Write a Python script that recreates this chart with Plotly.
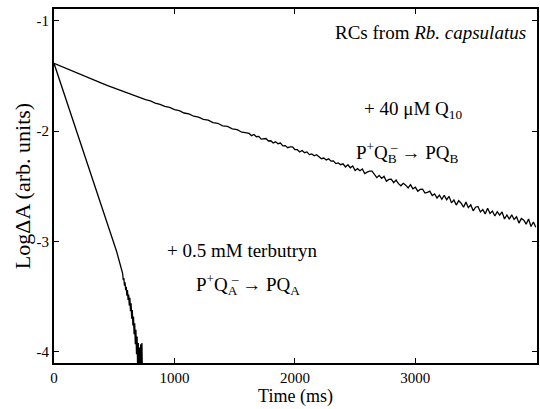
import plotly.graph_objects as go

# ---- data ----
# + 40 uM Q10 (P+QB- -> PQB)
t_qb = list(range(0, 1601, 40)) + list(range(1620, 4001, 20))
logA_qb = [
    -1.386, -1.405, -1.424, -1.442, -1.460, -1.479, -1.497, -1.515, -1.533, -1.550,
    -1.568, -1.585, -1.602, -1.619, -1.635, -1.651, -1.667, -1.683, -1.698, -1.714,
    -1.727, -1.746, -1.757, -1.776, -1.786, -1.806, -1.815, -1.836, -1.844, -1.865,
    -1.873, -1.893, -1.901, -1.923, -1.929, -1.952, -1.958, -1.980, -1.987, -2.010,
    -2.015,
    -2.021, -2.041, -2.030, -2.051, -2.048, -2.073, -2.067, -2.067, -2.089, -2.087,
    -2.108, -2.097, -2.114, -2.108, -2.133, -2.131, -2.150, -2.142, -2.143, -2.167,
    -2.168, -2.189, -2.176, -2.195, -2.188, -2.213, -2.207, -2.223, -2.213, -2.228,
    -2.250, -2.244, -2.262, -2.251, -2.272, -2.269, -2.294, -2.288, -2.304, -2.296,
    -2.325, -2.305, -2.332, -2.316, -2.357, -2.340, -2.359, -2.343, -2.384, -2.371,
    -2.362, -2.363, -2.389, -2.421, -2.401, -2.428, -2.410, -2.454, -2.437, -2.435,
    -2.467, -2.444, -2.476, -2.495, -2.473, -2.489, -2.514, -2.485, -2.522, -2.507,
    -2.544, -2.528, -2.526, -2.561, -2.554, -2.544, -2.584, -2.569, -2.606, -2.580,
    -2.617, -2.581, -2.621, -2.591, -2.650, -2.623, -2.670, -2.629, -2.653, -2.689,
    -2.643, -2.693, -2.667, -2.722, -2.689, -2.682, -2.732, -2.711, -2.750, -2.699,
    -2.746, -2.724, -2.769, -2.729, -2.761, -2.732, -2.796, -2.759, -2.797, -2.758,
    -2.800, -2.776, -2.833, -2.792, -2.807, -2.843, -2.796, -2.864, -2.823, -2.870,
]

# + 0.5 mM terbutryn (P+QA- -> PQA)
t_qa = [0, 50, 100, 150, 200, 250, 300, 350, 400, 450, 490, 520, 545, 565,
        570, 575, 580, 585, 590, 595, 600, 605, 610, 615, 620, 625, 630, 635,
        640, 645, 650, 655, 660, 665, 670, 675, 680, 685, 690, 695, 700, 705,
        710, 715, 720, 725, 730, 735]
logA_qa = [-1.386, -1.55, -1.715, -1.88, -2.045, -2.21, -2.37, -2.53, -2.69, -2.85,
           -2.98, -3.09, -3.19, -3.28,
           -3.29, -3.35, -3.33, -3.40, -3.37, -3.44, -3.41, -3.49, -3.44, -3.53,
           -3.48, -3.58, -3.51, -3.63, -3.56, -3.70, -3.62, -3.76, -3.68, -3.84,
           -3.74, -3.93, -3.80, -4.02, -3.86, -4.20, -3.92, -4.20, -3.96, -4.30,
           -3.93, -4.30, -3.92, -4.30]

x_ticks = [0, 1000, 2000, 3000]
y_ticks = [-1, -2, -3, -4]

SERIF = "Liberation Serif, Times New Roman, serif"

fig = go.Figure()
fig.add_trace(go.Scatter(x=t_qb, y=logA_qb, mode="lines",
                         line=dict(color="black", width=1.3), showlegend=False))
fig.add_trace(go.Scatter(x=t_qa, y=logA_qa, mode="lines",
                         line=dict(color="black", width=1.3), showlegend=False))

axis_common = dict(showline=True, linecolor="black", linewidth=2, mirror="ticks",
                   ticks="inside", ticklen=5, tickwidth=1.2, tickcolor="black",
                   showgrid=False, zeroline=False,
                   tickfont=dict(family=SERIF, size=15, color="black"))

fig.update_xaxes(range=[0, 4010], tickvals=x_ticks, ticktext=[str(v) for v in x_ticks],
                 title=dict(text="Time (ms)", font=dict(family=SERIF, size=18, color="black"),
                            standoff=2), **axis_common)
fig.update_yaxes(range=[-4.1, -0.894], tickvals=y_ticks, ticktext=[str(v) for v in y_ticks],
                 title=dict(text="LogΔA (arb. units)", font=dict(family=SERIF, size=22, color="black"),
                            standoff=0), **axis_common)

ann_font = dict(family=SERIF, size=19, color="black")
annotations = [
    dict(text="RCs from <i>Rb. capsulatus</i>", x=0.981, y=0.935, xanchor="right"),
    dict(text="+ 40 μM Q<sub>10</sub>", x=0.744, y=0.715, xanchor="center"),
    dict(text="P<sup>+</sup>Q<sub>B</sub> → PQ<sub>B</sub>", x=0.730, y=0.596, xanchor="center"),
    dict(text="+ 0.5 mM terbutryn", x=0.390, y=0.319, xanchor="center"),
    dict(text="P<sup>+</sup>Q<sub>A</sub> → PQ<sub>A</sub>", x=0.402, y=0.223, xanchor="center"),
]
for a in annotations:
    fig.add_annotation(xref="paper", yref="paper", yanchor="middle", showarrow=False,
                       font=ann_font, **a)
# superscript minus signs stacked over the Q subscripts
for xp, yp in [(0.730, 0.596), (0.402, 0.223)]:
    fig.add_annotation(xref="paper", yref="paper", x=xp, y=yp, xanchor="center",
                       yanchor="middle", xshift=-13, yshift=6, text="–", showarrow=False,
                       font=dict(family=SERIF, size=13, color="black"))

fig.update_layout(width=540, height=409, margin=dict(l=54, r=1, t=9, b=46),
                  paper_bgcolor="white", plot_bgcolor="white")

fig.write_html("out.html")
